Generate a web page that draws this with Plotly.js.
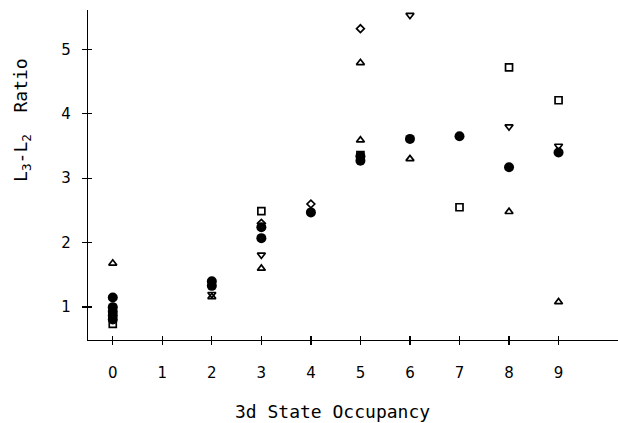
<!DOCTYPE html>
<html>
<head>
<meta charset="utf-8">
<script src="https://cdn.plot.ly/plotly-3.0.1.min.js"></script>
<style>html,body{margin:0;padding:0;background:#fff;}#chart{width:618px;height:423px;}</style>
</head>
<body>
<div id="chart"></div>
<script>
// Filled circles
var circleX = [0, 0, 0, 0, 0, 2, 2, 3, 3, 4, 5, 5, 6, 7, 8, 9];
var circleY = [1.15, 1.00, 0.93, 0.87, 0.81, 1.40, 1.33, 2.24, 2.07, 2.47, 3.34, 3.27, 3.61, 3.65, 3.17, 3.40];
// Open squares
var squareX = [0, 3, 5, 7, 8, 9];
var squareY = [0.74, 2.49, 3.36, 2.55, 4.72, 4.21];
// Open triangles (up)
var triUpX = [0, 2, 3, 5, 5, 6, 8, 9];
var triUpY = [1.68, 1.16, 1.60, 4.79, 3.59, 3.30, 2.48, 1.08];
// Open triangles (down)
var triDownX = [2, 3, 6, 8, 9];
var triDownY = [1.20, 1.81, 5.53, 3.80, 3.50];
// Open diamonds
var diamondX = [3, 4, 5];
var diamondY = [2.30, 2.60, 5.32];

var xTicks = [0, 1, 2, 3, 4, 5, 6, 7, 8, 9];
var yTicks = [1, 2, 3, 4, 5];

function openTrace(x, y, sym, size) {
  return {x: x, y: y, type: 'scatter', mode: 'markers', showlegend: false, hoverinfo: 'skip',
    marker: {symbol: sym, size: size, color: '#000', line: {color: '#000', width: 1.7}}};
}

var traces = [
  openTrace(squareX, squareY, 'square-open', 7),
  openTrace(triUpX, triUpY, 'triangle-up-open', 7),
  openTrace(triDownX, triDownY, 'triangle-down-open', 7),
  openTrace(diamondX, diamondY, 'diamond-open', 6),
  {x: circleX, y: circleY, type: 'scatter', mode: 'markers', showlegend: false, hoverinfo: 'skip',
   xaxis: 'x2', yaxis: 'y2',
   marker: {symbol: 'circle', size: 10, color: '#000'}}
];

var font = {family: 'DejaVu Sans', size: 15, color: '#000'};
var xr = [-0.5, 10.2], yr = [0.49, 5.61];
var layout = {
  width: 618, height: 423,
  margin: {l: 88, r: 0, t: 10, b: 83},
  paper_bgcolor: '#fff', plot_bgcolor: '#fff',
  font: font,
  showlegend: false,
  xaxis: {range: xr, tickvals: xTicks, ticktext: xTicks.map(String),
    showgrid: false, zeroline: false, showline: true, linecolor: '#000', linewidth: 1.3,
    ticks: 'outside', ticklen: 4, tickwidth: 1.3, tickcolor: '#000', ticklabelstandoff: 15,
    tickfont: font},
  xaxis2: {range: xr, tickvals: xTicks, overlaying: 'x', side: 'bottom', showticklabels: false,
    showgrid: false, zeroline: false, showline: false, ticks: 'inside', ticklen: 4,
    tickwidth: 1.3, tickcolor: '#000'},
  yaxis: {range: yr, tickvals: yTicks, ticktext: yTicks.map(String),
    showgrid: false, zeroline: false, showline: true, linecolor: '#000', linewidth: 1.3,
    ticks: 'outside', ticklen: 5, tickwidth: 1.3, tickcolor: '#000', ticklabelstandoff: 8,
    tickfont: font},
  yaxis2: {range: yr, tickvals: yTicks, overlaying: 'y', side: 'left', showticklabels: false,
    showgrid: false, zeroline: false, showline: false, ticks: 'inside', ticklen: 4,
    tickwidth: 1.3, tickcolor: '#000'},
  annotations: [
    {text: '3d State Occupancy', xref: 'paper', yref: 'paper', x: 0.462, y: 0, yshift: -71,
     xanchor: 'center', yanchor: 'middle', showarrow: false,
     font: {family: 'DejaVu Sans Mono', size: 18, color: '#000'}},
    {text: 'L<sub>3</sub>-L<sub>2</sub>  Ratio', xref: 'paper', yref: 'paper', x: 0, xshift: -66,
     y: 0.667, xanchor: 'center', yanchor: 'middle', textangle: -90, showarrow: false,
     font: {family: 'DejaVu Sans Mono', size: 18, color: '#000'}}
  ]
};

Plotly.newPlot('chart', traces, layout, {staticPlot: true, displayModeBar: false});
</script>
</body>
</html>
